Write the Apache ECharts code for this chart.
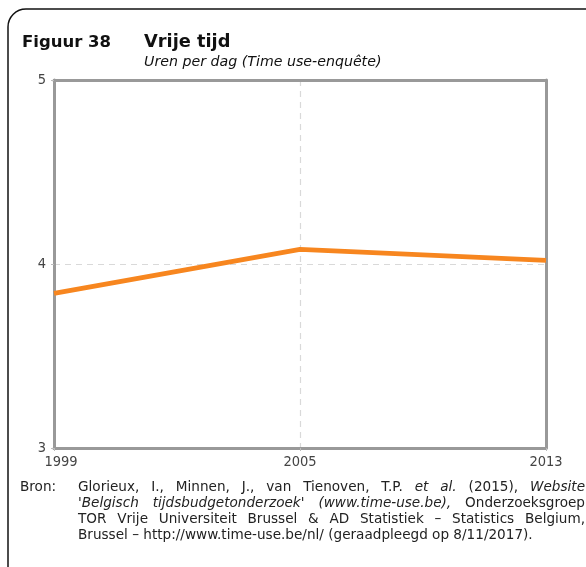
<!DOCTYPE html>
<html>
<head>
<meta charset="utf-8">
<script src="https://cdn.jsdelivr.net/npm/echarts@6/dist/echarts.min.js"></script>
<style>html,body{margin:0;padding:0;background:#fff}#c{width:586px;height:567px}</style>
</head>
<body>
<div id="c"></div>
<script>
const categories = ['1999', '2005', '2013'];
const vrijeTijd = [3.84, 4.08, 4.02];
const yTicks = [3, 4, 5];
// footnote lines: [text, italic]
const sourceLines = [
  [['Glorieux, I., Minnen, J., van Tienoven, T.P.', false], ['et al.', true], ['(2015),', false], ['Website', true]],
  [['\'Belgisch tijdsbudgetonderzoek\' (www.time-use.be),', true], ['Onderzoeksgroep', false]],
  [['TOR Vrije Universiteit Brussel & AD Statistiek – Statistics Belgium,', false]],
  [['Brussel – http://www.time-use.be/nl/ (geraadpleegd op 8/11/2017).', false]]
];

const chart = echarts.init(document.getElementById('c'));
const F = 'DejaVu Sans';
const FA = 'DejaVu Sans Condensed';
const FS = 13.6;
const borderStyle = { fill: 'none', stroke: '#111', lineWidth: 1.5 };
const axisLineStyle = { color: '#999', width: 3 };

// justified footnote layout
const ctx = document.createElement('canvas').getContext('2d');
const fontOf = it => (it ? 'italic ' : '') + FS + 'px "DejaVu Sans"';
const noteLeft = 78, noteRight = 585, noteTop = 480, noteLH = 16;
const noteEls = [];
sourceLines.forEach((segs, li) => {
  const words = [];
  segs.forEach(([t, it]) => t.split(' ').forEach(w => words.push({ w, it })));
  let sum = 0;
  words.forEach(o => { ctx.font = fontOf(o.it); o.width = ctx.measureText(o.w).width; sum += o.width; });
  ctx.font = fontOf(false);
  const space = ctx.measureText(' ').width;
  const justify = li < sourceLines.length - 1;
  const gap = justify && words.length > 1 ? (noteRight - noteLeft - sum) / (words.length - 1) : space;
  let x = noteLeft;
  words.forEach(o => {
    noteEls.push({ type: 'text', x: x, y: noteTop + li * noteLH, style: { text: o.w, font: fontOf(o.it), fill: '#222', textVerticalAlign: 'top' } });
    x += o.width + gap;
  });
});

chart.setOption({
  animation: false,
  backgroundColor: '#fff',
  grid: { left: 54, right: 40, top: 80, bottom: 119 },
  xAxis: [{
    type: 'category', data: categories, boundaryGap: false,
    axisLine: { show: true, lineStyle: axisLineStyle },
    axisTick: { show: true, length: 3, lineStyle: { color: '#bbb' } },
    axisLabel: {
      color: '#444', fontFamily: FA, fontSize: 14.5, margin: 7,
      formatter: (v, i) => i === 0 ? '{a|' + v + '}' : v,
      rich: { a: { color: '#444', fontFamily: FA, fontSize: 14.5, padding: [0, 0, 0, 14] } }
    },
    splitLine: { show: true, lineStyle: { color: '#d9d9d9', type: [6, 5], width: 1.2 } }
  }, {
    type: 'category', data: categories, boundaryGap: false, position: 'top',
    axisLine: { show: true, lineStyle: axisLineStyle },
    axisTick: { show: false }, axisLabel: { show: false }, splitLine: { show: false }
  }],
  yAxis: [{
    type: 'value', min: yTicks[0], max: yTicks[yTicks.length - 1], interval: 1,
    axisLine: { show: true, lineStyle: axisLineStyle },
    axisTick: { show: true, length: 3, lineStyle: { color: '#bbb' } },
    axisLabel: { color: '#444', fontFamily: FA, fontSize: 14.5, margin: 8 },
    splitLine: { show: true, lineStyle: { color: '#d9d9d9', type: [6, 5], width: 1.2 } }
  }, {
    type: 'value', min: yTicks[0], max: yTicks[yTicks.length - 1], interval: 1, position: 'right',
    axisLine: { show: true, lineStyle: axisLineStyle },
    axisTick: { show: false }, axisLabel: { show: false }, splitLine: { show: false }
  }],
  series: [{
    type: 'line', data: vrijeTijd, symbol: 'none', z: 5,
    lineStyle: { color: '#F7861F', width: 4.8 }
  }],
  graphic: [
    { type: 'line', shape: { x1: 8, y1: 27, x2: 8, y2: 567 }, style: borderStyle },
    { type: 'line', shape: { x1: 26, y1: 9, x2: 586, y2: 9 }, style: borderStyle },
    { type: 'arc', shape: { cx: 26, cy: 27, r: 18, startAngle: Math.PI, endAngle: Math.PI * 1.5 }, style: borderStyle },
    { type: 'text', left: 22, top: 34, style: { text: 'Figuur 38', font: 'bold 16.5px "DejaVu Sans"', fill: '#111' } },
    { type: 'text', left: 144, top: 33, style: { text: 'Vrije tijd', font: 'bold 17.8px "DejaVu Sans"', fill: '#111' } },
    { type: 'text', left: 144, top: 55, style: { text: 'Uren per dag (Time use-enquête)', font: 'italic 14.2px "DejaVu Sans"', fill: '#111' } },
    { type: 'text', left: 20, top: noteTop, style: { text: 'Bron:', font: FS + 'px "DejaVu Sans"', fill: '#222' } }
  ].concat(noteEls)
});
</script>
</body>
</html>
